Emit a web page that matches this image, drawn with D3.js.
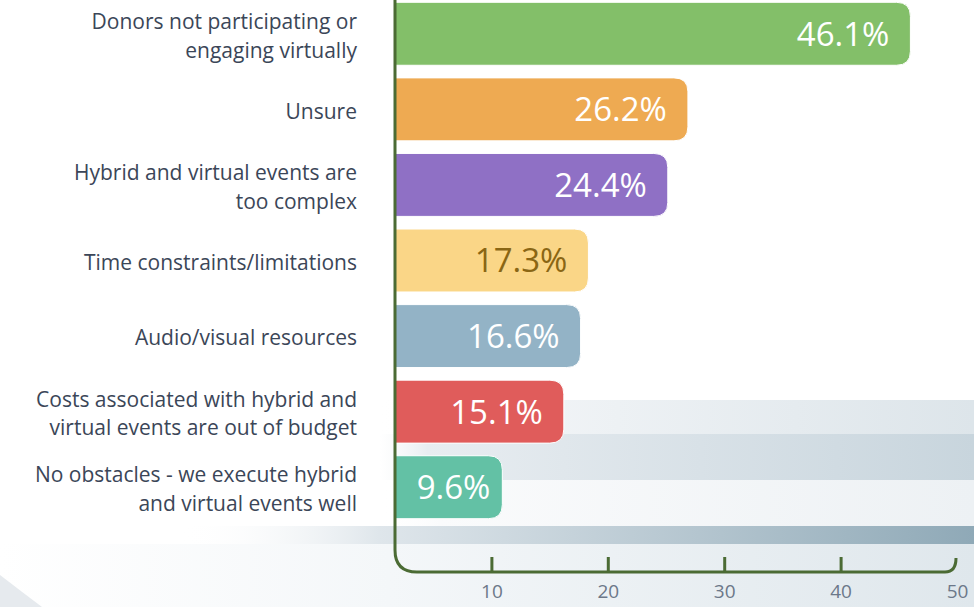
<!DOCTYPE html>
<html>
<head>
<meta charset="utf-8">
<script src="https://cdn.jsdelivr.net/npm/d3@7"></script>
<style>
  html, body { margin: 0; padding: 0; background: #fff; }
  svg { display: block; font-family: "Open Sans", Lato, sans-serif; }
</style>
</head>
<body>
<svg id="chart" width="974" height="607"></svg>
<script>
// data
const categories = [
    ["Donors not participating or", "engaging virtually"],
    ["Unsure"],
    ["Hybrid and virtual events are", "too complex"],
    ["Time constraints/limitations"],
    ["Audio/visual resources"],
    ["Costs associated with hybrid and", "virtual events are out of budget"],
    ["No obstacles - we execute hybrid", "and virtual events well"]
];
const values = [46.1, 26.2, 24.4, 17.3, 16.6, 15.1, 9.6];
const barColors = ["#83bf69", "#eeaa52", "#8f70c5", "#fad687", "#93b3c6", "#e05c5b", "#63c1a5"];
const valueColors = ["#fff", "#fff", "#fff", "#8a6614", "#fff", "#fff", "#fff"];
const tickValues = [10, 20, 30, 40, 50];

const width = 974;
const height = 607;
const svg = d3.select("#chart");
const defs = svg.append("defs");

// bars and axis ticks are not on quite the same scale in the original
const x = d3.scaleLinear().domain([0, 50]).range([395, 954]);
const axisX = d3.scaleLinear().domain([0, 50]).range([375, 957]);
const y = d3.scaleBand()
    .domain(d3.range(values.length))
    .range([-4, 525])
    .paddingInner(0.167)
    .paddingOuter(0.0835);

/* decorative background bands */
function grad(id, stops) {
    const g = defs.append("linearGradient").attr("id", id)
        .attr("x1", "0%").attr("x2", "100%").attr("y1", "0%").attr("y2", "0%");
    stops.forEach(s => g.append("stop").attr("offset", s[0]).attr("stop-color", s[1]).attr("stop-opacity", s[2] == null ? 1 : s[2]));
}
grad("bgBottom", [["0%", "#ffffff"], ["40%", "#f4f7f9"], ["100%", "#dfe7ec"]]);
grad("bandA", [["0%", "#ffffff", 0], ["10%", "#f5f7f9"], ["100%", "#dde5ea"]]);
grad("bandB", [["0%", "#f0f3f6", 0], ["8%", "#e8edf1"], ["100%", "#c8d5dd"]]);
grad("bandC", [["0%", "#ffffff", 0], ["10%", "#fafbfc"], ["100%", "#edf1f4"]]);
grad("bandD", [["0%", "#ffffff", 0], ["25%", "#dfe6eb"], ["100%", "#8fa9b7"]]);

svg.append("rect").attr("x", 0).attr("y", 544).attr("width", width).attr("height", height - 544)
    .attr("fill", "url(#bgBottom)");
svg.append("rect").attr("x", 380).attr("y", 400).attr("width", width - 380).attr("height", 34).attr("fill", "url(#bandA)");
svg.append("rect").attr("x", 380).attr("y", 434).attr("width", width - 380).attr("height", 46).attr("fill", "url(#bandB)");
svg.append("rect").attr("x", 380).attr("y", 480).attr("width", width - 380).attr("height", 46).attr("fill", "url(#bandC)");
svg.append("rect").attr("x", 180).attr("y", 526).attr("width", width - 180).attr("height", 18).attr("fill", "url(#bandD)");
// grey sweep in the bottom left corner
svg.append("path")
    .attr("d", "M0,575 Q22,592 42,607 L0,607 Z")
    .attr("fill", "#e6eaee");

/* category labels */
const labels = svg.append("g")
    .attr("fill", "#3b4658")
    .attr("font-size", 21)
    .attr("text-anchor", "end");

labels.selectAll("text")
    .data(categories)
    .join("text")
    .attr("transform", (d, i) => `translate(357, ${y(i) + y.bandwidth() / 2 + 2 - (d.length - 1) * 14.5})`)
    .each(function(d) {
        d3.select(this).selectAll("tspan")
            .data(d)
            .join("tspan")
            .attr("x", 0)
            .attr("dy", (t, j) => j === 0 ? "0.35em" : 29)
            .text(t => t);
    });

/* bars, rounded on the right end only */
function barPath(x0, x1, y0, h, r) {
    return `M${x0},${y0} H${x1 - r} Q${x1},${y0} ${x1},${y0 + r} V${y0 + h - r} Q${x1},${y0 + h} ${x1 - r},${y0 + h} H${x0} Z`;
}

const bars = svg.append("g");
bars.selectAll("path")
    .data(values)
    .join("path")
    .attr("d", (d, i) => barPath(x(0), x(d), y(i), y.bandwidth(), 14))
    .attr("fill", (d, i) => barColors[i])
    .attr("stroke", "#fff")
    .attr("stroke-width", 1);

bars.selectAll("text")
    .data(values)
    .join("text")
    .attr("x", d => x(d) - (d < 12 ? 12 : 21))
    .attr("y", (d, i) => y(i) + y.bandwidth() / 2)
    .attr("dy", "0.36em")
    .attr("text-anchor", "end")
    .attr("font-size", 33)
    .attr("fill", (d, i) => valueColors[i])
    .text(d => d3.format(".1f")(d) + "%");

/* axis: rounded corner frame in dark green */
const axisColor = "#4b6b34";
const baseY = 572;
svg.append("path")
    .attr("d", `M${x(0)},0 V${baseY - 22} Q${x(0)},${baseY} ${x(0) + 22},${baseY} H${axisX(50) - 12} Q${axisX(50) - 1},${baseY} ${axisX(50) - 1},${baseY - 14}`)
    .attr("fill", "none")
    .attr("stroke", axisColor)
    .attr("stroke-width", 3);

const axis = svg.append("g")
    .attr("transform", `translate(0, ${baseY})`)
    .call(d3.axisBottom(axisX).tickValues(tickValues).tickSizeInner(-15).tickSizeOuter(0).tickPadding(13));

axis.select(".domain").remove();
axis.selectAll(".tick line")
    .attr("stroke", axisColor)
    .attr("stroke-width", 3)
    .filter(d => d === 50).remove();
axis.selectAll(".tick text")
    .attr("font-family", "'Open Sans', Lato, sans-serif")
    .attr("font-size", 19)
    .attr("fill", "#6c7889");
</script>
</body>
</html>
